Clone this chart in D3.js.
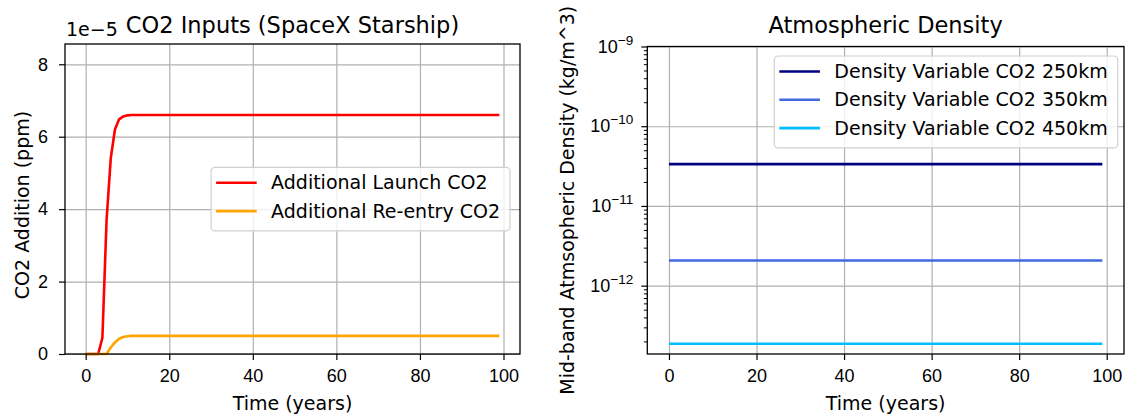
<!DOCTYPE html>
<html>
<head>
<meta charset="utf-8">
<script src="https://d3js.org/d3.v7.min.js"></script>
<style>
    body { margin: 0; background: #fff; }
    svg { display: block; font-family: "DejaVu Sans", sans-serif; }
    .tick text { font-size: 18px; fill: #000; }
    .grid line { stroke: #b0b0b0; stroke-width: 1.2; }
    .grid path { display: none; }
</style>
</head>
<body>
<svg id="chart" width="1129" height="414"></svg>
<script>
// ---- data ----
// left panel: CO2 inputs, values in units of 1e-5 ppm (flat after year 12)
var co2Years   = [0, 1, 2, 3, 4, 5, 6, 7, 8, 9, 10, 11, 12, 99]
var launchCO2  = [0, 0, 0, 0, 0.45, 3.7, 5.4, 6.2, 6.48, 6.56, 6.59, 6.6, 6.6, 6.6]
var reentryCO2 = [0, 0, 0, 0, 0, 0, 0.18, 0.32, 0.42, 0.47, 0.49, 0.5, 0.5, 0.5]
var co2Labels  = ["Additional Launch CO2", "Additional Re-entry CO2"]
var co2Colors  = ["red", "orange"]

// right panel: atmospheric density (kg/m^3), constant over time
var densYears = [0, 99]
var dens250 = [3.35e-11, 3.35e-11]
var dens350 = [2.07e-12, 2.07e-12]
var dens450 = [1.87e-13, 1.87e-13]
var densLabels = ["Density Variable CO2 250km", "Density Variable CO2 350km", "Density Variable CO2 450km"]
var densColors = ["navy", "royalblue", "deepskyblue"]

var xTicks = [0, 20, 40, 60, 80, 100]
var co2Ticks = [0, 2, 4, 6, 8]
var densTicks = [1e-12, 1e-11, 1e-10, 1e-9]

var svg = d3.select("#chart")
svg.append("rect").attr("width", 1129).attr("height", 414).attr("fill", "#fff")

// draws a matplotlib-ish legend, right aligned at xr, top at yt
function legend(g, labels, colors, xr, yt) {
    var lg = g.append("g")
    var box = lg.append("rect")
    var texts = []
    labels.forEach(function(l, i) {
        var t = lg.append("text").attr("font-size", 19).attr("fill", "#000")
            .attr("y", yt + 15.5 + i * 28.3).attr("dy", "0.35em").text(l)
        texts.push(t)
    })
    var w = d3.max(texts, function(t) { return t.node().getComputedTextLength() }) + 70
    var x0 = xr - w
    texts.forEach(function(t) { t.attr("x", x0 + 60) })
    labels.forEach(function(l, i) {
        lg.append("line")
            .attr("x1", x0 + 5).attr("x2", x0 + 45.6)
            .attr("y1", yt + 15.5 + i * 28.3).attr("y2", yt + 15.5 + i * 28.3)
            .attr("stroke", colors[i]).attr("stroke-width", 2.6)
    })
    box.attr("x", x0).attr("y", yt).attr("width", w).attr("height", labels.length * 28.3 + 7)
        .attr("rx", 4).attr("fill", "#fff").attr("fill-opacity", 0.8)
        .attr("stroke", "#d0d0d0").attr("stroke-width", 1.2)
    return lg
}

function styleAxis(g) {
    g.select(".domain").remove()
    g.selectAll(".tick line").attr("stroke", "#000").attr("stroke-width", 1.2)
}

// ================= left panel =================
var L = { left: 65, right: 520, top: 44, bottom: 354 }
var x1 = d3.scaleLinear().domain([-4.95, 103.95]).range([L.left, L.right])
var y1 = d3.scaleLinear().domain([0, 8.56]).range([L.bottom, L.top])

var gl = svg.append("g")

gl.append("g").attr("class", "grid").attr("transform", "translate(0," + L.bottom + ")")
    .call(d3.axisBottom(x1).tickValues(xTicks).tickSize(-(L.bottom - L.top)).tickFormat(""))
gl.append("g").attr("class", "grid").attr("transform", "translate(" + L.left + ",0)")
    .call(d3.axisLeft(y1).tickValues(co2Ticks).tickSize(-(L.right - L.left)).tickFormat(""))

var lineL = d3.line().x(function(d) { return x1(d[0]) }).y(function(d) { return y1(d[1]) })
;[launchCO2, reentryCO2].forEach(function(s, i) {
    gl.append("path")
        .datum(co2Years.map(function(t, j) { return [t, s[j]] }))
        .attr("fill", "none").attr("stroke", co2Colors[i]).attr("stroke-width", 2.6)
        .attr("stroke-linejoin", "round")
        .attr("d", lineL)
})

gl.append("rect").attr("x", L.left).attr("y", L.top)
    .attr("width", L.right - L.left).attr("height", L.bottom - L.top)
    .attr("fill", "none").attr("stroke", "#000").attr("stroke-width", 1.3)

gl.append("g").attr("transform", "translate(0," + L.bottom + ")")
    .call(d3.axisBottom(x1).tickValues(xTicks).tickSize(6).tickPadding(9))
    .call(styleAxis)
gl.append("g").attr("transform", "translate(" + L.left + ",0)")
    .call(d3.axisLeft(y1).tickValues(co2Ticks).tickSize(6).tickPadding(11))
    .call(styleAxis)

legend(gl, co2Labels, co2Colors, 510, 167.3)

gl.append("text").attr("x", 66).attr("y", 36).attr("font-size", 19).text("1e\u22125")
gl.append("text").attr("x", (L.left + L.right) / 2).attr("y", 33).attr("text-anchor", "middle")
    .attr("font-size", 22.5).text("CO2 Inputs (SpaceX Starship)")
gl.append("text").attr("x", (L.left + L.right) / 2).attr("y", 410).attr("text-anchor", "middle")
    .attr("font-size", 19).text("Time (years)")
gl.append("text").attr("transform", "translate(22,205) rotate(-90)")
    .attr("text-anchor", "middle").attr("dy", "0.35em")
    .attr("font-size", 19).text("CO2 Addition (ppm)")

// ================= right panel =================
var R = { left: 647.3, right: 1124, top: 46.5, bottom: 354 }
var x2 = d3.scaleLinear().domain([-4.95, 103.95]).range([R.left, R.right])
var y2 = d3.scaleLog().domain([1.39e-13, 1e-9]).range([R.bottom, R.top])

var gr = svg.append("g")

gr.append("g").attr("class", "grid").attr("transform", "translate(0," + R.bottom + ")")
    .call(d3.axisBottom(x2).tickValues(xTicks).tickSize(-(R.bottom - R.top)).tickFormat(""))
gr.append("g").attr("class", "grid").attr("transform", "translate(" + R.left + ",0)")
    .call(d3.axisLeft(y2).tickValues(densTicks).tickSize(-(R.right - R.left)).tickFormat(""))

var lineR = d3.line().x(function(d) { return x2(d[0]) }).y(function(d) { return y2(d[1]) })
;[dens250, dens350, dens450].forEach(function(s, i) {
    gr.append("path")
        .datum(densYears.map(function(t, j) { return [t, s[j]] }))
        .attr("fill", "none").attr("stroke", densColors[i]).attr("stroke-width", 2.6)
        .attr("d", lineR)
})

gr.append("rect").attr("x", R.left).attr("y", R.top)
    .attr("width", R.right - R.left).attr("height", R.bottom - R.top)
    .attr("fill", "none").attr("stroke", "#000").attr("stroke-width", 1.3)

gr.append("g").attr("transform", "translate(0," + R.bottom + ")")
    .call(d3.axisBottom(x2).tickValues(xTicks).tickSize(6).tickPadding(9))
    .call(styleAxis)

// minor log ticks
var minors = []
for (var e = -13; e <= -10; e++) {
    for (var k = 2; k <= 9; k++) {
        var v = k * Math.pow(10, e)
        if (v >= y2.domain()[0] && v <= y2.domain()[1]) minors.push(v)
    }
}
gr.append("g").attr("transform", "translate(" + R.left + ",0)")
    .call(d3.axisLeft(y2).tickValues(minors).tickSize(3.4).tickFormat(""))
    .call(styleAxis)
    .selectAll(".tick line").attr("stroke-width", 1)

var yAx = gr.append("g").attr("transform", "translate(" + R.left + ",0)")
    .call(d3.axisLeft(y2).tickValues(densTicks).tickSize(6).tickPadding(8).tickFormat(""))
    .call(styleAxis)
yAx.selectAll(".tick text").each(function(d) {
    var t = d3.select(this)
    var ex = Math.round(Math.log10(d))
    t.append("tspan").text("10")
    t.append("tspan").attr("font-size", 13.5).attr("dy", "-0.6em").text("\u2212" + Math.abs(ex))
})

legend(gr, densLabels, densColors, 1117.7, 56)

gr.append("text").attr("x", (R.left + R.right) / 2).attr("y", 33).attr("text-anchor", "middle")
    .attr("font-size", 22.5).text("Atmospheric Density")
gr.append("text").attr("x", (R.left + R.right) / 2).attr("y", 410).attr("text-anchor", "middle")
    .attr("font-size", 19).text("Time (years)")
gr.append("text").attr("transform", "translate(567," + (R.top + R.bottom) / 2 + ") rotate(-90)")
    .attr("text-anchor", "middle").attr("dy", "0.35em")
    .attr("font-size", 19).text("Mid-band Atmsopheric Density (kg/m^3)")
</script>
</body>
</html>
